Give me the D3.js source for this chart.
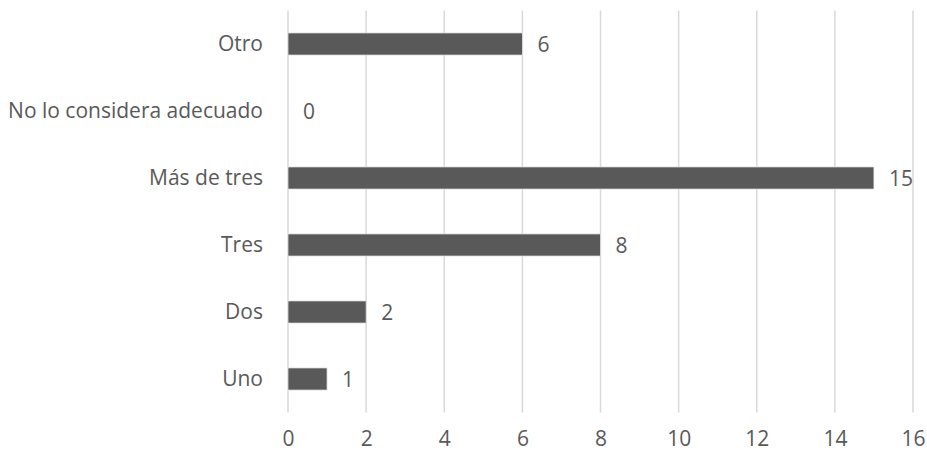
<!DOCTYPE html>
<html>
<head>
<meta charset="utf-8">
<script src="https://cdn.jsdelivr.net/npm/d3@7"></script>
<style>
  body { margin: 0; background: #fff; }
  text { font-family: "Open Sans", sans-serif; fill: #595959; }
</style>
</head>
<body>
<svg id="chart" width="927" height="455"></svg>
<script>
// categories, bottom to top as in the picture
var categories = ['Uno', 'Dos', 'Tres', 'Más de tres', 'No lo considera adecuado', 'Otro'];
var values = [1, 2, 8, 15, 0, 6];
var xTicks = [0, 2, 4, 6, 8, 10, 12, 14, 16];

var svg = d3.select('#chart');

// plot area (avoid "top", it is window.top)
var plotL = 288, plotR = 913, plotT = 10.5, plotB = 412.5;
var fontSize = '21px';

var x = d3.scaleLinear()
  .domain([0, 16])
  .range([plotL, plotR]);

var y = d3.scaleBand()
  .domain(categories.slice().reverse())
  .range([plotT, plotB])
  .paddingInner(0.67)
  .paddingOuter(0.335);

// gridlines
svg.append('g')
  .selectAll('line')
  .data(xTicks)
  .enter()
  .append('line')
  .attr('x1', function(d) { return x(d); })
  .attr('x2', function(d) { return x(d); })
  .attr('y1', plotT)
  .attr('y2', plotB)
  .attr('stroke', '#d9d9d9')
  .attr('stroke-width', 1.5);

// bars
svg.append('g')
  .selectAll('rect')
  .data(categories)
  .enter()
  .append('rect')
  .attr('x', x(0))
  .attr('y', function(d) { return y(d); })
  .attr('width', function(d, i) { return x(values[i]) - x(0); })
  .attr('height', y.bandwidth())
  .attr('fill', '#595959')
  .attr('stroke', '#e8e8e8')
  .attr('stroke-width', 0.75);

// value labels
svg.append('g')
  .selectAll('text')
  .data(categories)
  .enter()
  .append('text')
  .attr('x', function(d, i) { return x(values[i]) + 15; })
  .attr('y', function(d) { return y(d) + y.bandwidth() / 2; })
  .attr('dy', '0.36em')
  .style('font-size', fontSize)
  .text(function(d, i) { return values[i]; });

// category axis
var yAxis = svg.append('g')
  .attr('transform', 'translate(' + plotL + ',0)')
  .call(d3.axisLeft(y).tickSize(0).tickPadding(25));
yAxis.select('.domain').remove();
yAxis.selectAll('text')
  .style('font-size', fontSize)
  .attr('fill', '#595959');

// value axis
var xAxis = svg.append('g')
  .attr('transform', 'translate(0,' + plotB + ')')
  .call(d3.axisBottom(x).tickValues(xTicks).tickSize(0).tickPadding(19));
xAxis.select('.domain').remove();
xAxis.selectAll('text')
  .style('font-size', fontSize)
  .attr('fill', '#595959');
</script>
</body>
</html>
